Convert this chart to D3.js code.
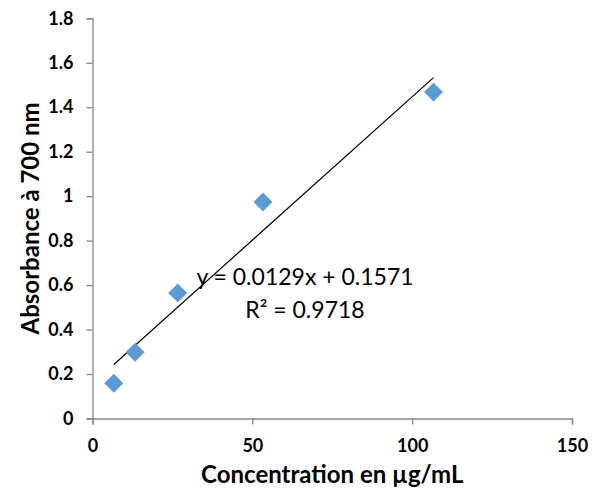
<!DOCTYPE html>
<html>
<head>
<meta charset="utf-8">
<script src="https://cdn.jsdelivr.net/npm/d3@7"></script>
<style>
  html, body { margin: 0; padding: 0; background: #fff; }
  svg { display: block; }
  text { font-family: Lato, "Open Sans", sans-serif; fill: #000; }
</style>
</head>
<body>
<svg id="chart" width="597" height="492"></svg>
<script>
// Concentration (µg/mL) and absorbance at 700 nm
const concentrations = [6.67, 13.33, 26.67, 53.33, 106.67];
const absorbances = [0.159, 0.298, 0.565, 0.974, 1.468];

// Linear trendline coefficients
const slope = 0.0129;
const intercept = 0.1571;
const rSquared = 0.9718;

const xTicks = [0, 50, 100, 150];
const yTicks = [0, 0.2, 0.4, 0.6, 0.8, 1, 1.2, 1.4, 1.6, 1.8];

const svg = d3.select("#chart");
const axisColor = "#868686";

const x = d3.scaleLinear().domain([0, 150]).range([92.5, 572]);
const y = d3.scaleLinear().domain([0, 1.8]).range([418.5, 18.3]);

// Y axis
const yAxis = svg.append("g")
  .attr("transform", `translate(${x(0)},0)`)
  .call(d3.axisLeft(y).tickValues(yTicks).tickSize(6).tickPadding(13)
    .tickFormat(d => String(+d.toFixed(1))));
yAxis.select(".domain").attr("stroke", axisColor).attr("stroke-width", 1.3);
yAxis.selectAll(".tick line").attr("stroke", axisColor).attr("stroke-width", 1.3);
yAxis.selectAll(".tick text")
  .style("font-size", "18px").style("font-weight", "bold").attr("fill", "#000");

// X axis
const xAxis = svg.append("g")
  .attr("transform", `translate(0,${y(0)})`)
  .call(d3.axisBottom(x).tickValues(xTicks).tickSize(6).tickPadding(15));
xAxis.select(".domain").attr("stroke", axisColor).attr("stroke-width", 1.3);
xAxis.selectAll(".tick line").attr("stroke", axisColor).attr("stroke-width", 1.3);
xAxis.selectAll(".tick text")
  .style("font-size", "18px").style("font-weight", "bold").attr("fill", "#000");

// Trendline across the measured range
const xMin = d3.min(concentrations), xMax = d3.max(concentrations);
svg.append("line")
  .attr("x1", x(xMin)).attr("y1", y(slope * xMin + intercept))
  .attr("x2", x(xMax)).attr("y2", y(slope * xMax + intercept))
  .attr("stroke", "#000").attr("stroke-width", 1.2);

// Diamond markers
const diamond = d3.symbol().type(d3.symbolSquare).size(180);
svg.append("g").selectAll("path")
  .data(concentrations.map((c, i) => [c, absorbances[i]]))
  .join("path")
  .attr("d", diamond)
  .attr("transform", d => `translate(${x(d[0])},${y(d[1])}) rotate(45)`)
  .attr("fill", "#5B9BD5");

// Equation and R² labels
svg.append("text")
  .attr("x", 305).attr("y", 285)
  .attr("text-anchor", "middle")
  .style("font-size", "23px")
  .text(`y = ${slope}x + ${intercept}`);
svg.append("text")
  .attr("x", 305).attr("y", 318)
  .attr("text-anchor", "middle")
  .style("font-size", "23px")
  .text(`R² = ${rSquared}`);

// Axis titles
svg.append("text")
  .attr("x", (x(0) + x(150)) / 2).attr("y", 483)
  .attr("text-anchor", "middle")
  .style("font-size", "24px").style("font-weight", "bold")
  .text("Concentration en µg/mL");

svg.append("text")
  .attr("transform", `translate(39,${(y(0) + y(1.8)) / 2}) rotate(-90)`)
  .attr("text-anchor", "middle")
  .style("font-size", "24px").style("font-weight", "bold")
  .text("Absorbance à 700 nm");
</script>
</body>
</html>
